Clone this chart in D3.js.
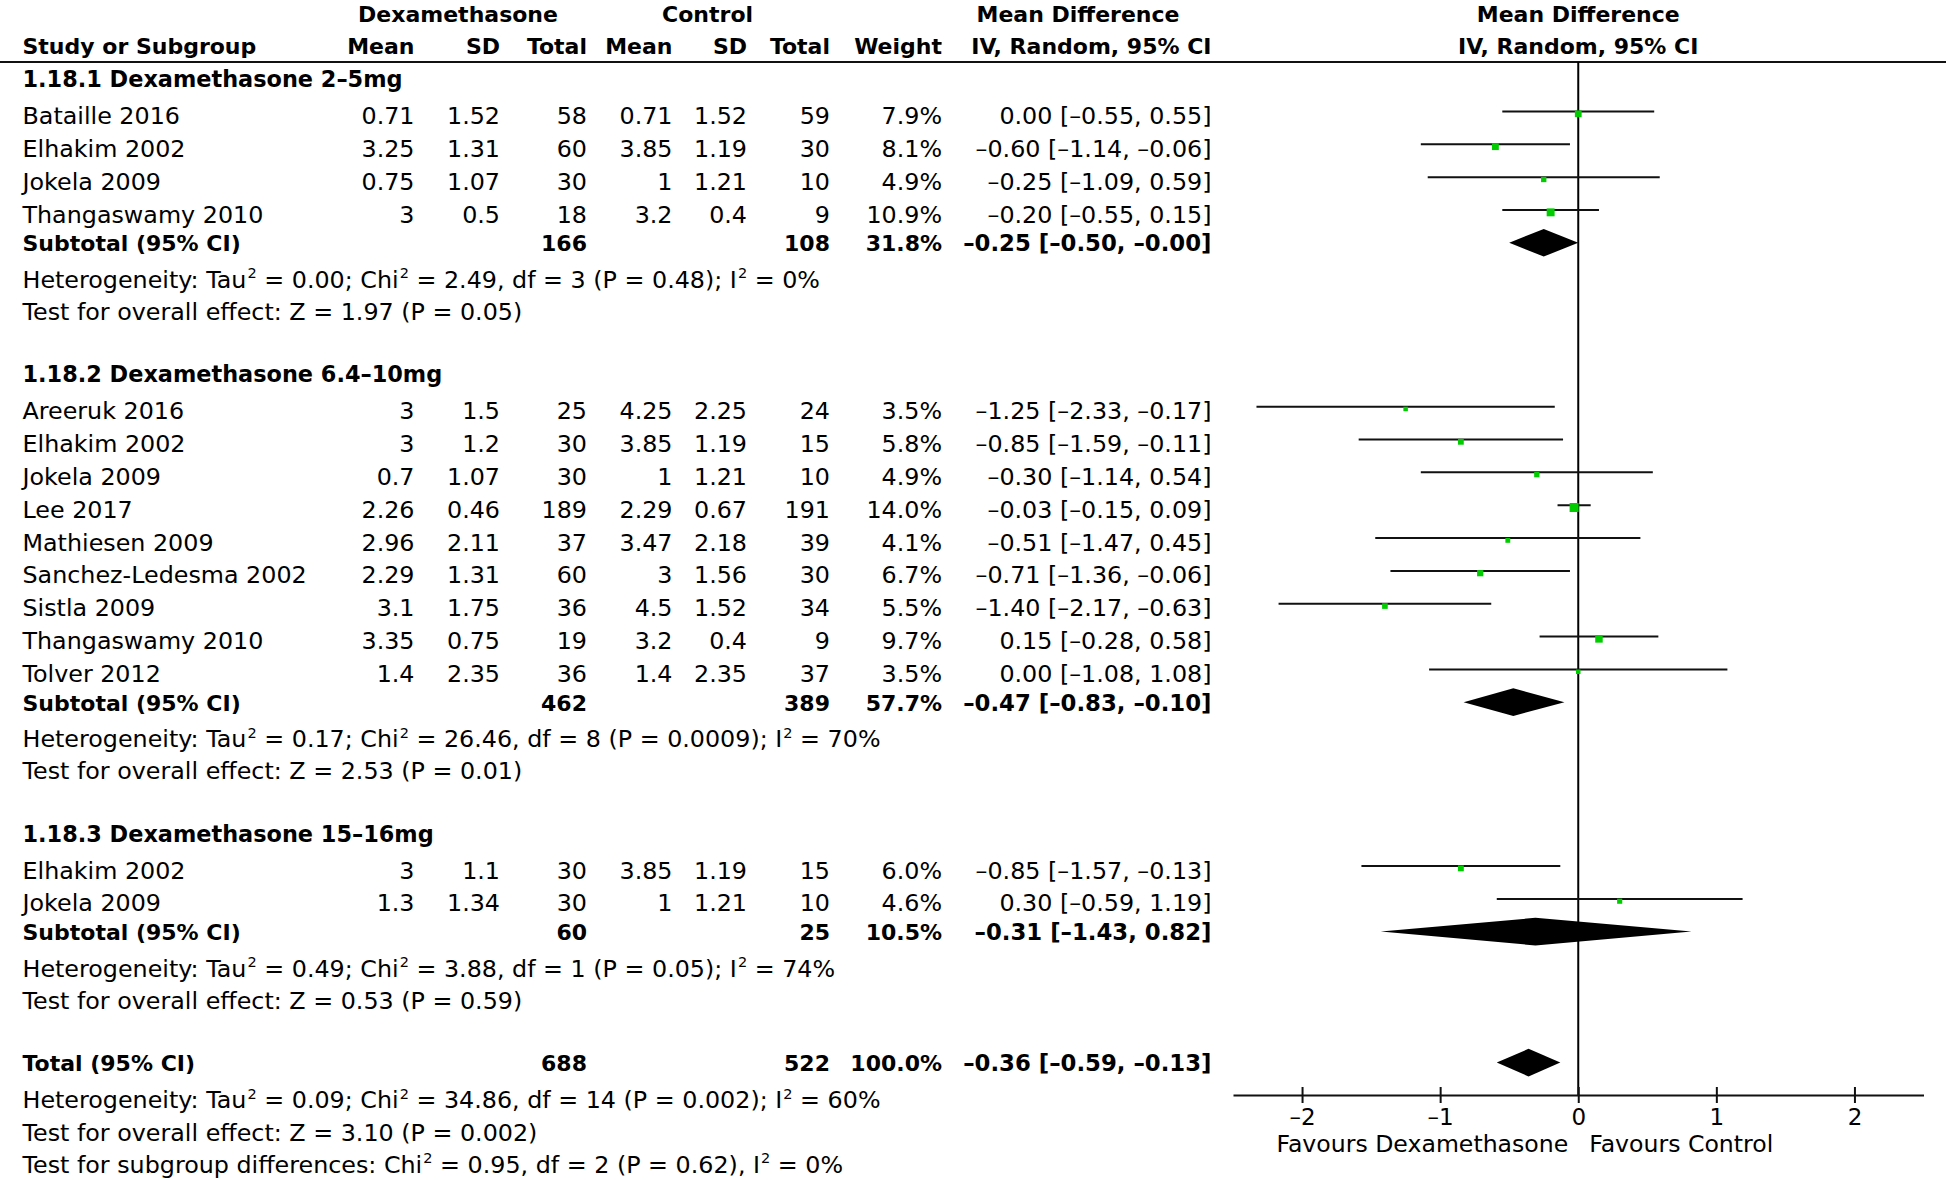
<!DOCTYPE html>
<html>
<head>
<meta charset="utf-8">
<script src="https://cdn.jsdelivr.net/npm/d3@7"></script>
<style>
  html, body { margin: 0; padding: 0; background: #fff; }
  svg { display: block; }
  text { font-family: "DejaVu Sans", sans-serif; fill: #000; }
</style>
</head>
<body>
<svg id="chart" width="1946" height="1180"></svg>
<script>
// ---------------- DATA ----------------
const groupTitles = ["1.18.1 Dexamethasone 2\u20135mg", "1.18.2 Dexamethasone 6.4\u201310mg", "1.18.3 Dexamethasone 15\u201316mg"];

const studyNames = ["Bataille 2016", "Elhakim 2002", "Jokela 2009", "Thangaswamy 2010",
  "Areeruk 2016", "Elhakim 2002", "Jokela 2009", "Lee 2017", "Mathiesen 2009", "Sanchez-Ledesma 2002", "Sistla 2009", "Thangaswamy 2010", "Tolver 2012",
  "Elhakim 2002", "Jokela 2009"];
const studyGroup = [0, 0, 0, 0, 1, 1, 1, 1, 1, 1, 1, 1, 1, 2, 2];
const dexMean  = ["0.71", "3.25", "0.75", "3", "3", "3", "0.7", "2.26", "2.96", "2.29", "3.1", "3.35", "1.4", "3", "1.3"];
const dexSD    = ["1.52", "1.31", "1.07", "0.5", "1.5", "1.2", "1.07", "0.46", "2.11", "1.31", "1.75", "0.75", "2.35", "1.1", "1.34"];
const dexTotal = [58, 60, 30, 18, 25, 30, 30, 189, 37, 60, 36, 19, 36, 30, 30];
const ctlMean  = ["0.71", "3.85", "1", "3.2", "4.25", "3.85", "1", "2.29", "3.47", "3", "4.5", "3.2", "1.4", "3.85", "1"];
const ctlSD    = ["1.52", "1.19", "1.21", "0.4", "2.25", "1.19", "1.21", "0.67", "2.18", "1.56", "1.52", "0.4", "2.35", "1.19", "1.21"];
const ctlTotal = [59, 30, 10, 9, 24, 15, 10, 191, 39, 30, 34, 9, 37, 15, 10];
const weights  = [7.9, 8.1, 4.9, 10.9, 3.5, 5.8, 4.9, 14.0, 4.1, 6.7, 5.5, 9.7, 3.5, 6.0, 4.6];
const md       = [0.00, -0.60, -0.25, -0.20, -1.25, -0.85, -0.30, -0.03, -0.51, -0.71, -1.40, 0.15, 0.00, -0.85, 0.30];
const ciLow    = [-0.55, -1.14, -1.09, -0.55, -2.33, -1.59, -1.14, -0.15, -1.47, -1.36, -2.17, -0.28, -1.08, -1.57, -0.59];
const ciHigh   = [0.55, -0.06, 0.59, 0.15, -0.17, -0.11, 0.54, 0.09, 0.45, -0.06, -0.63, 0.58, 1.08, -0.13, 1.19];

const subDexTotal = [166, 462, 60];
const subCtlTotal = [108, 389, 25];
const subWeight   = [31.8, 57.7, 10.5];
const subMD       = [-0.25, -0.47, -0.31];
const subLow      = [-0.50, -0.83, -1.43];
const subHigh     = [-0.00, -0.10, 0.82];
const subHetTau   = ["0.00", "0.17", "0.49"];
const subHetChi   = ["2.49", "26.46", "3.88"];
const subHetDf    = [3, 8, 1];
const subHetP     = ["0.48", "0.0009", "0.05"];
const subHetI2    = ["0%", "70%", "74%"];
const subZ        = ["1.97", "2.53", "0.53"];
const subZP       = ["0.05", "0.01", "0.59"];

const totalDex = 688, totalCtl = 522, totalWeight = 100.0;
const totalMD = -0.36, totalLow = -0.59, totalHigh = -0.13;
const totalHet = {tau: "0.09", chi: "34.86", df: 14, p: "0.002", i2: "60%"};
const totalZ = {z: "3.10", p: "0.002"};
const subgroupDiff = {chi: "0.95", df: 2, p: "0.62", i2: "0%"};

const axisTicks = [-2, -1, 0, 1, 2];
const axisDomain = [-2.5, 2.5];
const favoursLeft = "Favours Dexamethasone";
const favoursRight = "Favours Control";

// ---------------- LAYOUT ----------------
const svg = d3.select("#chart");
const FS = 23.8, FSB = 22, FSH = 22, FST = 22.4, FSCI = 22.8;
const GREEN = "#00cc00";

const col = {
  name: 22.5, dexMean: 414.5, dexSD: 500, dexTotal: 587,
  ctlMean: 672.5, ctlSD: 747, ctlTotal: 830, weight: 942, ci: 1211.5
};

const x = d3.scaleLinear().domain(axisDomain).range([1233, 1923.5]);
const axisY = 1095;
const headerLineY = 62;

const dash = v => (v < 0 || Object.is(v, -0) ? "\u2013" : "") + Math.abs(v).toFixed(2);
const ciText = (m, l, h) => `${dash(m)} [${dash(l)}, ${dash(h)}]`;

function txt(xp, y, s, opts = {}) {
  return svg.append("text")
    .attr("x", xp).attr("y", y)
    .attr("text-anchor", opts.anchor || "start")
    .attr("font-size", opts.size || FS)
    .attr("font-weight", opts.bold ? "bold" : "normal")
    .text(s);
}

// rich text with superscript "2"
function richText(xp, y, parts) {
  const t = svg.append("text").attr("x", xp).attr("y", y).attr("font-size", FS);
  let pendingDy = 0;
  parts.forEach(p => {
    if (p === "^2") {
      t.append("tspan").attr("font-size", 14.5).attr("dy", -9.5).attr("dx", 1).text("2");
      pendingDy = 9.5;
    } else {
      const ts = t.append("tspan").text(p);
      if (pendingDy) { ts.attr("dy", pendingDy); pendingDy = 0; }
    }
  });
  return t;
}

// ---------------- HEADERS ----------------
txt(458, 21.7, "Dexamethasone", {anchor: "middle", bold: true, size: FSH});
txt(707.6, 21.7, "Control", {anchor: "middle", bold: true, size: FSH});
txt(1078, 21.7, "Mean Difference", {anchor: "middle", bold: true, size: FSH});
txt(x(0), 21.7, "Mean Difference", {anchor: "middle", bold: true, size: FSH});

const hY = 54;
txt(col.name, hY, "Study or Subgroup", {bold: true, size: FSH});
txt(col.dexMean, hY, "Mean", {anchor: "end", bold: true, size: FSH});
txt(col.dexSD, hY, "SD", {anchor: "end", bold: true, size: FSH});
txt(col.dexTotal, hY, "Total", {anchor: "end", bold: true, size: FSH});
txt(col.ctlMean, hY, "Mean", {anchor: "end", bold: true, size: FSH});
txt(col.ctlSD, hY, "SD", {anchor: "end", bold: true, size: FSH});
txt(col.ctlTotal, hY, "Total", {anchor: "end", bold: true, size: FSH});
txt(col.weight, hY, "Weight", {anchor: "end", bold: true, size: FSH});
txt(col.ci, hY, "IV, Random, 95% CI", {anchor: "end", bold: true, size: FSH});
txt(x(0), hY, "IV, Random, 95% CI", {anchor: "middle", bold: true, size: FSH});

svg.append("line").attr("x1", 0).attr("x2", 1946).attr("y1", headerLineY).attr("y2", headerLineY)
  .attr("stroke", "#111").attr("stroke-width", 2);

// zero line
svg.append("line").attr("x1", x(0)).attr("x2", x(0)).attr("y1", headerLineY).attr("y2", axisY)
  .attr("stroke", "#000").attr("stroke-width", 2);

const sizeScale = d3.scaleSqrt().domain([0, 14]).range([0, 9]);

function diamond(y, m, l, h) {
  const cy = y - 8.5, hh = 13.8;
  svg.append("path")
    .attr("d", `M${x(l)},${cy}L${x(m)},${cy - hh}L${x(h)},${cy}L${x(m)},${cy + hh}Z`)
    .attr("fill", "#000");
}

// ---------------- ROWS ----------------
let y = 87.3;
groupTitles.forEach((title, g) => {
  if (g > 0) y += 62.6;
  txt(col.name, y, title, {bold: true, size: FST});
  y += 36.7;
  const idx = d3.range(studyNames.length).filter(i => studyGroup[i] === g);
  idx.forEach((i, k) => {
    if (k > 0) y += 32.85;
    txt(col.name, y, studyNames[i]);
    txt(col.dexMean, y, dexMean[i], {anchor: "end"});
    txt(col.dexSD, y, dexSD[i], {anchor: "end"});
    txt(col.dexTotal, y, dexTotal[i], {anchor: "end"});
    txt(col.ctlMean, y, ctlMean[i], {anchor: "end"});
    txt(col.ctlSD, y, ctlSD[i], {anchor: "end"});
    txt(col.ctlTotal, y, ctlTotal[i], {anchor: "end"});
    txt(col.weight, y, weights[i].toFixed(1) + "%", {anchor: "end"});
    txt(col.ci, y, ciText(md[i], ciLow[i], ciHigh[i]), {anchor: "end"});
    const ly = y - 12.5;
    svg.append("line").attr("x1", x(ciLow[i])).attr("x2", x(ciHigh[i])).attr("y1", ly).attr("y2", ly)
      .attr("stroke", "#111").attr("stroke-width", 2);
    const s = sizeScale(weights[i]);
    svg.append("rect").attr("x", x(md[i]) - s / 2).attr("y", ly + 2.3 - s / 2).attr("width", s).attr("height", s)
      .attr("fill", GREEN);
  });
  y += 28.7;
  txt(col.name, y, "Subtotal (95% CI)", {bold: true, size: FSB});
  txt(col.dexTotal, y, subDexTotal[g], {anchor: "end", bold: true, size: FSB});
  txt(col.ctlTotal, y, subCtlTotal[g], {anchor: "end", bold: true, size: FSB});
  txt(col.weight, y, subWeight[g].toFixed(1) + "%", {anchor: "end", bold: true, size: FSB});
  txt(col.ci, y, ciText(subMD[g], subLow[g], subHigh[g]), {anchor: "end", bold: true, size: FSCI});
  diamond(y, subMD[g], subLow[g], subHigh[g]);
  y += 36.6;
  richText(col.name, y, [`Heterogeneity: Tau`, "^2", ` = ${subHetTau[g]}; Chi`, "^2", ` = ${subHetChi[g]}, df = ${subHetDf[g]} (P = ${subHetP[g]}); I`, "^2", ` = ${subHetI2[g]}`]);
  y += 32.0;
  txt(col.name, y, `Test for overall effect: Z = ${subZ[g]} (P = ${subZP[g]})`);
});

y += 62.4;
txt(col.name, y, "Total (95% CI)", {bold: true, size: FSB});
txt(col.dexTotal, y, totalDex, {anchor: "end", bold: true, size: FSB});
txt(col.ctlTotal, y, totalCtl, {anchor: "end", bold: true, size: FSB});
txt(col.weight, y, totalWeight.toFixed(1) + "%", {anchor: "end", bold: true, size: FSB});
txt(col.ci, y, ciText(totalMD, totalLow, totalHigh), {anchor: "end", bold: true, size: FSCI});
diamond(y, totalMD, totalLow, totalHigh);
y += 37.2;
richText(col.name, y, [`Heterogeneity: Tau`, "^2", ` = ${totalHet.tau}; Chi`, "^2", ` = ${totalHet.chi}, df = ${totalHet.df} (P = ${totalHet.p}); I`, "^2", ` = ${totalHet.i2}`]);
y += 32.3;
txt(col.name, y, `Test for overall effect: Z = ${totalZ.z} (P = ${totalZ.p})`);
y += 32.3;
richText(col.name, y, [`Test for subgroup differences: Chi`, "^2", ` = ${subgroupDiff.chi}, df = ${subgroupDiff.df} (P = ${subgroupDiff.p}), I`, "^2", ` = ${subgroupDiff.i2}`]);

// ---------------- AXIS ----------------
const axis = d3.axisBottom(x).tickValues(axisTicks).tickSizeOuter(0).tickSizeInner(8)
  .tickFormat(d => (d < 0 ? "\u2013" : "") + Math.abs(d));
const ag = svg.append("g").attr("transform", `translate(0,${axisY})`).call(axis);
ag.select(".domain").attr("stroke", "#111").attr("stroke-width", 2);
ag.selectAll(".tick line").attr("y1", -8).attr("y2", 8).attr("stroke", "#111").attr("stroke-width", 2);
ag.selectAll(".tick text").attr("font-size", 23).attr("font-family", "DejaVu Sans").attr("fill", "#000")
  .attr("dy", null).attr("y", 29.5);

txt(x(0) - 10, 1152, favoursLeft, {anchor: "end", size: 23.6});
txt(x(0) + 11, 1152, favoursRight, {anchor: "start", size: 23.6});
</script>
</body>
</html>
